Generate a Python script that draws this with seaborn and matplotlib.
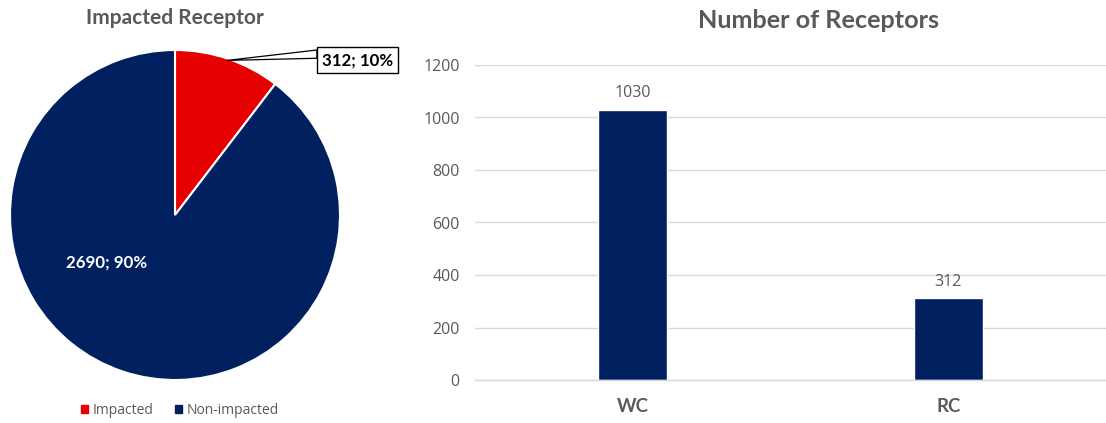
import matplotlib
matplotlib.use("Agg")
import matplotlib.pyplot as plt
from matplotlib.patches import Polygon
import seaborn as sns
import pandas as pd

# Pie: receptor impact split
pie_labels = ["Impacted", "Non-impacted"]
pie_values = [312, 2690]
pie_texts = ["312; 10%", "2690; 90%"]

# Bars: number of receptors by type
bar_categories = ["WC", "RC"]
bar_values = [1030, 312]
y_ticks = [0, 200, 400, 600, 800, 1000, 1200]

RED = "#E60000"
NAVY = "#002060"
GRAY = "#595959"
BOLD_FONT = ["Lato", "DejaVu Sans"]

sns.set_theme(style="white")
plt.rcParams["font.family"] = ["Open Sans", "DejaVu Sans"]

W, H = 1106, 423
fig = plt.figure(figsize=(W / 100, H / 100), dpi=100)

# ---- Pie chart ----
ax_pie = fig.add_axes([10 / W, 43 / H, 330 / W, 330 / H])
wedges, _ = ax_pie.pie(
    pie_values,
    colors=[RED, NAVY],
    startangle=90,
    counterclock=False,
    radius=1.0,
    wedgeprops=dict(edgecolor="white", linewidth=1.5),
)
ax_pie.set_xlim(-1, 1)
ax_pie.set_ylim(-1, 1)
ax_pie.set_aspect("equal")

# label inside the large slice
ax_pie.text(-0.412, -0.285, pie_texts[1], color="white", fontsize=12.2,
            fontweight="bold", family=BOLD_FONT, ha="center", va="center")

# wedge-shaped callout leader for the small slice
leader = Polygon([(0.315, 0.937), (0.86, 1.0), (0.86, 0.95)], closed=True,
                 facecolor="white", edgecolor="black", lw=0.9,
                 clip_on=False, zorder=4)
ax_pie.add_patch(leader)
ax_pie.text(1.106, 0.937, pie_texts[0], fontsize=12.2, fontweight="bold",
            family=BOLD_FONT, color="black", ha="center", va="center", zorder=5,
            bbox=dict(boxstyle="square,pad=0.3", fc="white", ec="black", lw=1),
            clip_on=False)

fig.text(175 / W, 1 - 18 / H, "Impacted Receptor", ha="center", va="center",
         fontsize=15, fontweight="bold", family=BOLD_FONT, color=GRAY)

handles = [plt.Rectangle((0, 0), 1, 1, color=c) for c in [RED, NAVY]]
fig.legend(handles, pie_labels, loc="center", bbox_to_anchor=(180 / W, 1 - 410 / H),
           ncol=2, frameon=False, fontsize=10, handlelength=0.5, handleheight=0.5,
           handletextpad=0.35, columnspacing=1.5, labelcolor=GRAY)

# ---- Bar chart ----
ax_bar = fig.add_axes([475 / W, 43 / H, 631 / W, 315 / H])
df = pd.DataFrame({"Type": bar_categories, "Count": bar_values})
sns.barplot(data=df, x="Type", y="Count", color=NAVY, width=0.22,
            saturation=1, ax=ax_bar)
ax_bar.set_xlim(-0.5, 1.5)
ax_bar.set_ylim(0, 1200)
ax_bar.set_yticks(y_ticks)
ax_bar.set_yticklabels([str(t) for t in y_ticks])
ax_bar.grid(axis="y", color="#D9D9D9", linewidth=1)
ax_bar.set_axisbelow(True)
for s in ["top", "right", "left"]:
    ax_bar.spines[s].set_visible(False)
ax_bar.spines["bottom"].set_color("#D9D9D9")
ax_bar.spines["bottom"].set_linewidth(1)
ax_bar.tick_params(axis="y", length=0, pad=11, labelsize=11.5, labelcolor=GRAY)
ax_bar.tick_params(axis="x", length=0, pad=13, labelsize=13.4, labelcolor=GRAY)
for lbl in ax_bar.get_xticklabels():
    lbl.set_fontweight("bold")
    lbl.set_family(BOLD_FONT)
ax_bar.set_xlabel("")
ax_bar.set_ylabel("")

for i, v in enumerate(bar_values):
    ax_bar.annotate(str(v), xy=(i, v), xytext=(0, 6), textcoords="offset points",
                    ha="center", va="bottom", fontsize=11.5, color=GRAY)

fig.text(818 / W, 1 - 20 / H, "Number of Receptors", ha="center", va="center",
         fontsize=18.2, fontweight="bold", family=BOLD_FONT, color=GRAY)

fig.savefig("out.png", dpi=100)
